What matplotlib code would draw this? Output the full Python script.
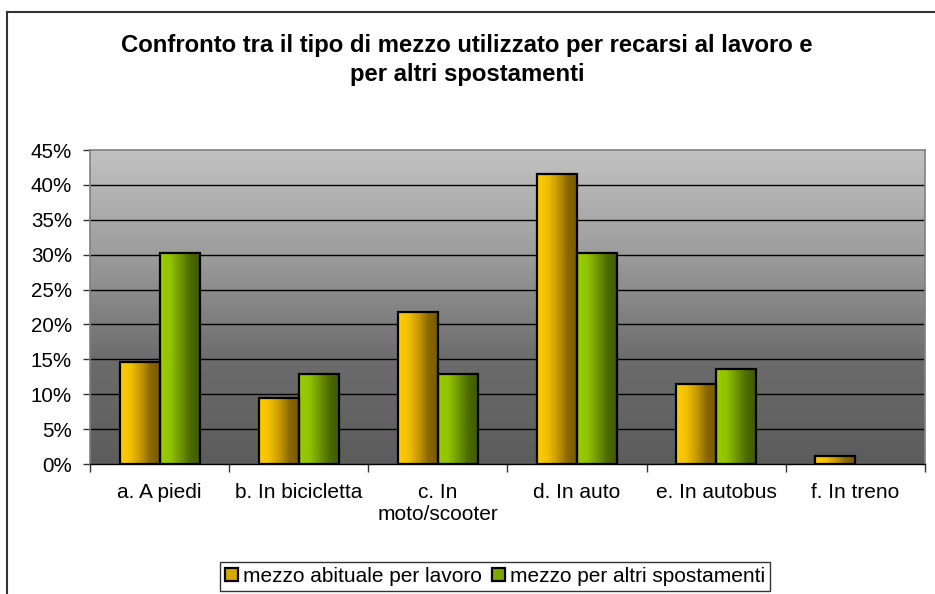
import numpy as np
import matplotlib
matplotlib.use("Agg")
import matplotlib.pyplot as plt
from matplotlib.colors import LinearSegmentedColormap
from matplotlib.patches import Rectangle
from matplotlib.lines import Line2D

plt.rcParams['font.family'] = ['Liberation Sans', 'DejaVu Sans']

categories = ['a. A piedi', 'b. In bicicletta', 'c. In\nmoto/scooter', 'd. In auto', 'e. In autobus', 'f. In treno']
lavoro = [14.6, 9.4, 21.8, 41.6, 11.5, 1.1]
altri = [30.3, 12.9, 12.9, 30.3, 13.6, 0.0]
series_names = ['mezzo abituale per lavoro', 'mezzo per altri spostamenti']
yticks = [0, 5, 10, 15, 20, 25, 30, 35, 40, 45]
ytick_labels = [f'{v}%' for v in yticks]
title = 'Confronto tra il tipo di mezzo utilizzato per recarsi al lavoro e\nper altri spostamenti'

W, H = 935, 594
fig = plt.figure(figsize=(W / 100, H / 100), dpi=100)
fig.patch.set_facecolor('white')

ax = fig.add_axes([90 / W, 1 - 464 / H, (925 - 90) / W, (464 - 150) / H])
ax.set_xlim(-0.5, len(categories) - 0.5)
ax.set_ylim(0, 45)

# background gradient (light at top, dark at bottom)
bg = LinearSegmentedColormap.from_list('bg', ['#c2c2c2', '#9c9c9c', '#6c6c6c', '#5c5c5c'])
grad = np.linspace(0, 1, 256).reshape(-1, 1)
ax.imshow(grad, cmap=bg, aspect='auto', extent=(-0.5, len(categories) - 0.5, 0, 45),
          zorder=0, origin='upper', vmin=0, vmax=1)

for y in yticks[1:-1]:
    ax.axhline(y, color='black', lw=1.0, zorder=1)

cmap_y = LinearSegmentedColormap.from_list('yel', ['#ffcc00', '#f2c000', '#c89a00', '#8a6800', '#765800'])
cmap_g = LinearSegmentedColormap.from_list('grn', ['#99cc00', '#92c400', '#6f9800', '#4c6a00', '#405800'])
hgrad = np.linspace(0, 1, 256).reshape(1, -1)

bw = 0.288
x = np.arange(len(categories))
for vals, off, cm in ((lavoro, -bw / 2, cmap_y), (altri, bw / 2, cmap_g)):
    bars = ax.bar(x + off, vals, width=bw, facecolor='none', edgecolor='black', linewidth=1.6, zorder=3)
    for b in bars:
        h = b.get_height()
        if h <= 0:
            b.set_visible(False)
            continue
        x0 = b.get_x()
        im = ax.imshow(hgrad, cmap=cm, aspect='auto', extent=(x0, x0 + bw, 0, h), zorder=2)
        im.set_clip_path(b)
ax.set_xlim(-0.5, len(categories) - 0.5)
ax.set_ylim(0, 45)

ax.set_yticks(yticks)
ax.set_yticklabels(ytick_labels, fontsize=14.8)
ax.set_xticks(x)
ax.set_xticklabels(categories, fontsize=15, linespacing=1.15)
ax.set_xticks(np.arange(len(categories) + 1) - 0.5, minor=True)
ax.tick_params(axis='x', which='major', length=0, pad=14)
ax.tick_params(axis='x', which='minor', length=6, width=1, color='#333333', direction='out')
ax.tick_params(axis='y', length=5, width=1, color='#333333', direction='out', pad=8)

for s in ('top', 'right', 'left'):
    ax.spines[s].set_color('#808080')
    ax.spines[s].set_linewidth(1.2)
ax.spines['bottom'].set_color('black')
ax.spines['bottom'].set_linewidth(1.0)
ax.spines['bottom'].set_zorder(4)

# title
fig.text(467 / W, 1 - 60 / H, title, ha='center', va='center', fontsize=17.2,
         fontweight='bold', linespacing=1.35)

# legend
handles = [Rectangle((0, 0), 1, 1, facecolor='#d9a800', edgecolor='black', lw=1.6),
           Rectangle((0, 0), 1, 1, facecolor='#7aa800', edgecolor='black', lw=1.6)]
leg = fig.legend(handles, series_names, loc='upper left', bbox_to_anchor=(220 / W, 1 - 562 / H),
                 ncol=2, fontsize=15, frameon=True, fancybox=False, edgecolor='black',
                 handlelength=0.6, handleheight=0.6, handletextpad=0.25, columnspacing=0.5,
                 borderpad=0.25, borderaxespad=0)
leg.get_frame().set_linewidth(1.0)

# outer chart frame
fig.add_artist(Line2D([7 / W, 1], [1 - 12 / H, 1 - 12 / H], color='#333333', lw=1.5,
                      transform=fig.transFigure))
fig.add_artist(Line2D([7 / W, 7 / W], [0, 1 - 12 / H], color='#333333', lw=1.5,
                      transform=fig.transFigure))

fig.savefig('out.png', dpi=100)
